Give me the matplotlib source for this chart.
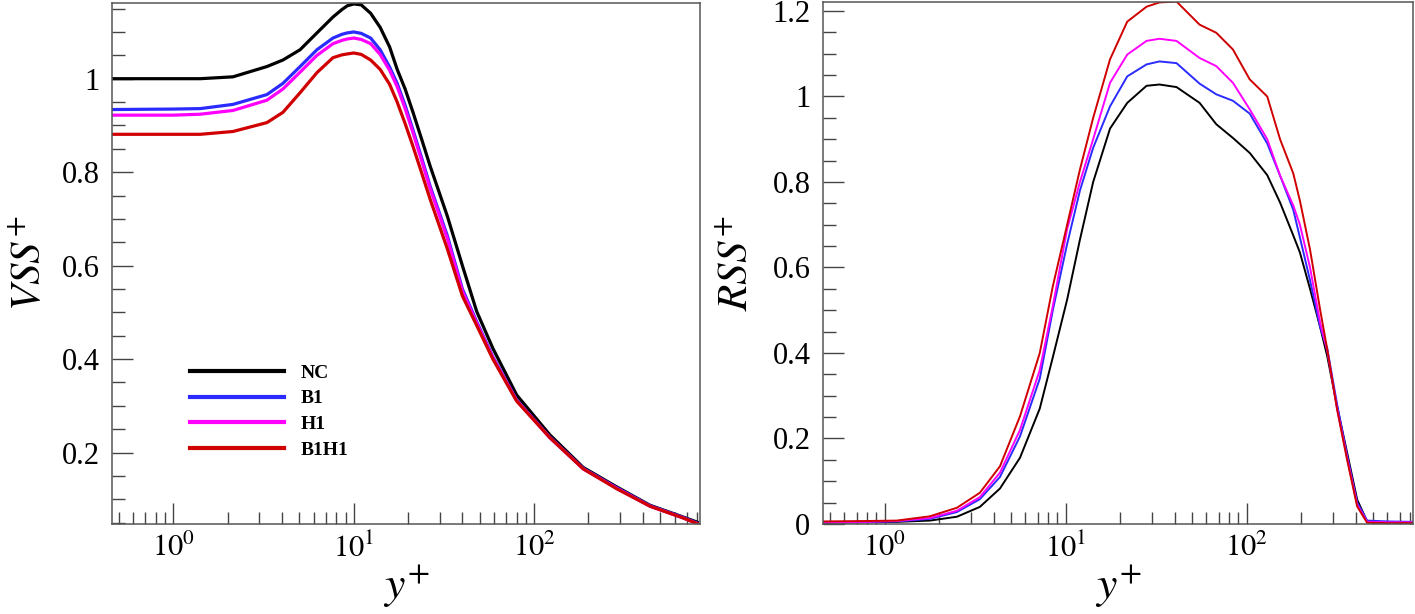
import matplotlib
matplotlib.use("Agg")
import numpy as np
import matplotlib.pyplot as plt
from matplotlib.ticker import MultipleLocator, LogLocator, NullFormatter, FuncFormatter

plt.rcParams['font.family'] = 'serif'
plt.rcParams['font.serif'] = ['Liberation Serif', 'DejaVu Serif']
plt.rcParams['mathtext.fontset'] = 'stix'

# ---- data: VSS+ (left) ----
yp_left = [0.46, 1.0, 1.41, 2.14, 3.3, 4.05, 5.04, 6.25, 7.67, 8.6, 9.2, 10, 11, 12.4, 14, 15.8, 17.4,
           19.3, 21.3, 23.8, 26.5, 33, 40, 48, 59, 80, 122, 187, 288, 439, 669, 800]
vss_nc = [1.0, 1.0, 1.0, 1.004, 1.026, 1.04, 1.062, 1.098, 1.132, 1.148, 1.156, 1.16, 1.158, 1.14, 1.11,
          1.068, 1.02, 0.977, 0.928, 0.87, 0.813, 0.706, 0.60, 0.502, 0.423, 0.323, 0.238, 0.168,
          0.126, 0.087, 0.062, 0.051]
vss_b1 = [0.934, 0.935, 0.936, 0.945, 0.966, 0.99, 1.026, 1.062, 1.087, 1.095, 1.098, 1.10, 1.097, 1.087,
          1.062, 1.025, 0.99, 0.942, 0.89, 0.83, 0.77, 0.664, 0.55, 0.48, 0.405, 0.312, 0.233, 0.166,
          0.124, 0.086, 0.061, 0.049]
vss_h1 = [0.922, 0.922, 0.924, 0.932, 0.954, 0.978, 1.014, 1.05, 1.075, 1.082, 1.085, 1.087, 1.084, 1.075,
          1.052, 1.018, 0.983, 0.935, 0.884, 0.824, 0.765, 0.658, 0.545, 0.477, 0.403, 0.311, 0.232,
          0.165, 0.123, 0.085, 0.06, 0.048]
vss_b1h1 = [0.881, 0.881, 0.881, 0.887, 0.906, 0.928, 0.97, 1.013, 1.045, 1.051, 1.053, 1.055, 1.052,
            1.04, 1.02, 0.988, 0.95, 0.903, 0.855, 0.798, 0.742, 0.636, 0.535, 0.472, 0.40, 0.31, 0.232,
            0.165, 0.122, 0.085, 0.06, 0.048]

# ---- data: RSS+ (right) ----
yp_right = [0.46, 0.8, 1.17, 1.78, 2.51, 3.36, 4.34, 5.6, 7.2, 8.5, 10.2, 12, 14.2, 17.6, 21.9, 28, 33,
            41, 55, 68, 84, 104, 130, 153, 181, 197, 224, 255, 279, 316, 359, 408, 463, 600, 830]
rss_nc = [0.003, 0.004, 0.005, 0.008, 0.017, 0.04, 0.083, 0.155, 0.27, 0.39, 0.525, 0.665, 0.8, 0.925,
          0.985, 1.025, 1.028, 1.022, 0.985, 0.935, 0.903, 0.868, 0.816, 0.752, 0.675, 0.635, 0.55,
          0.46, 0.392, 0.275, 0.167, 0.057, 0.006, 0.003, 0.003]
rss_b1 = [0.004, 0.005, 0.006, 0.012, 0.028, 0.058, 0.11, 0.205, 0.34, 0.5, 0.655, 0.78, 0.88, 0.977,
          1.047, 1.075, 1.082, 1.078, 1.03, 1.005, 0.99, 0.96, 0.89, 0.815, 0.735, 0.67, 0.57,
          0.46, 0.41, 0.28, 0.16, 0.05, 0.008, 0.006, 0.005]
rss_h1 = [0.004, 0.005, 0.007, 0.014, 0.031, 0.063, 0.12, 0.22, 0.36, 0.51, 0.69, 0.8, 0.9, 1.032,
          1.098, 1.13, 1.135, 1.13, 1.09, 1.071, 1.032, 0.97, 0.9, 0.815, 0.745, 0.7, 0.6,
          0.47, 0.405, 0.27, 0.155, 0.045, 0.005, 0.004, 0.004]
rss_b1h1 = [0.006, 0.007, 0.008, 0.018, 0.038, 0.073, 0.135, 0.252, 0.4, 0.556, 0.70, 0.829, 0.95, 1.087,
            1.175, 1.21, 1.22, 1.222, 1.168, 1.149, 1.11, 1.04, 1.0, 0.9, 0.82, 0.756, 0.642,
            0.5, 0.408, 0.268, 0.15, 0.041, 0.003, 0.002, 0.002]

labels = ['NC', 'B1', 'H1', 'B1H1']
colors = ['black', '#2b2bff', '#ff00ff', '#d00000']

fig = plt.figure(figsize=(14.15, 6.14), dpi=100)
ax1 = fig.add_axes([112/1415, 90/614, 588/1415, 521/614])
ax2 = fig.add_axes([823/1415, 90/614, 590/1415, 522/614])

for ser, c, lab in zip([vss_nc, vss_b1, vss_h1, vss_b1h1], colors, labels):
    ax1.plot(yp_left, ser, color=c, lw=2.3, label=lab)
for ser, c in zip([rss_nc, rss_b1, rss_h1, rss_b1h1], colors):
    ax2.plot(yp_right, ser, color=c, lw=1.4)


def dec(v, pos):
    return r'$\mathrm{10^{%d}}$' % round(np.log10(v)) if v > 0 else ''


for ax in (ax1, ax2):
    ax.set_xscale('log')
    ax.set_xlim(0.457, 830)
    ax.xaxis.set_major_locator(LogLocator(base=10, numticks=10))
    ax.xaxis.set_minor_locator(LogLocator(base=10, subs=np.arange(2, 10), numticks=20))
    ax.xaxis.set_minor_formatter(NullFormatter())
    ax.xaxis.set_major_formatter(FuncFormatter(dec))
    ax.yaxis.set_minor_locator(MultipleLocator(0.05))
    ax.yaxis.set_major_locator(MultipleLocator(0.2))
    ax.yaxis.set_major_formatter(FuncFormatter(lambda v, p: '%g' % round(v, 2)))
    ax.tick_params(which='both', direction='in', top=False, right=False,
                   color='#444444', width=1.0, labelsize=22)
    ax.tick_params(which='major', length=15)
    ax.tick_params(which='minor', length=9)
    ax.tick_params(axis='y', pad=9)
    ax.tick_params(axis='x', pad=7)
    for s in ax.spines.values():
        s.set_color('#555555')
        s.set_linewidth(1.1)
    ax.set_xlabel(r'$y^{+}$', fontsize=33)
    ax.xaxis.set_label_coords(0.5, -0.075)

ax1.set_ylim(0.047, 1.162)
ax1.set_ylabel(r'$VSS^{+}$', fontsize=31)
ax1.yaxis.set_label_coords(-0.106, 0.5)

ax2.set_ylim(0, 1.221)
ax2.set_ylabel(r'$RSS^{+}$', fontsize=31)
ax2.yaxis.set_label_coords(-0.112, 0.5)

leg = ax1.legend(loc='upper left', bbox_to_anchor=(0.133, 0.307), frameon=False,
                 handlelength=4.8, handletextpad=0.9, labelspacing=0.42,
                 borderpad=0, borderaxespad=0,
                 prop={'family': 'serif', 'weight': 'bold', 'size': 14})
for h in leg.get_lines():
    h.set_linewidth(3)

fig.savefig('out.png', dpi=100)
